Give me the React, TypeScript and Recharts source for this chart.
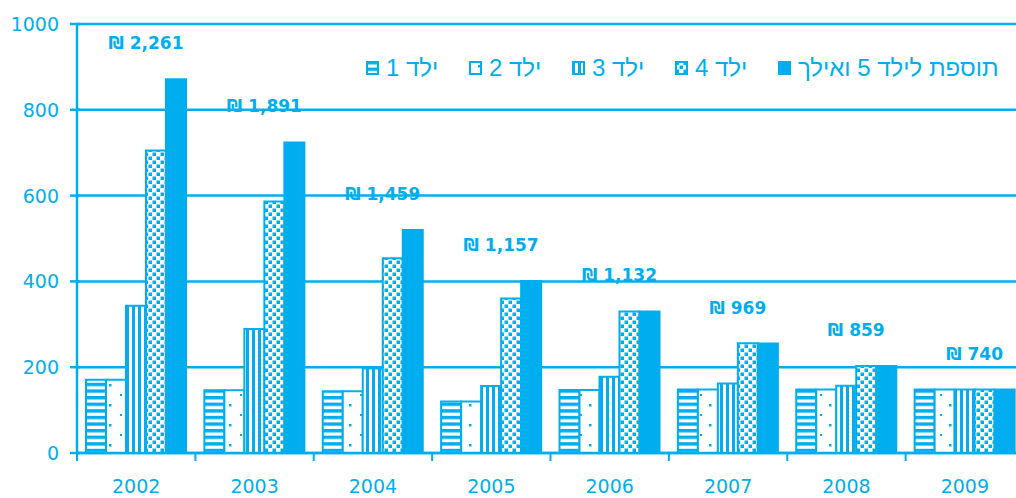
import React from "react"
import { BarChart, Bar, XAxis, YAxis, CartesianGrid, LabelList } from "recharts"

const BLUE = "#00aeef"

const years = ["2002", "2003", "2004", "2005", "2006", "2007", "2008", "2009"]
const yTicks = [0, 200, 400, 600, 800, 1000]
const seriesNames = ["ילד 1", "ילד 2", "ילד 3", "ילד 4", "תוספת לילד 5 ואילך"]

const child1 = [171, 146, 144, 120, 147, 148, 148, 148]
const child2 = [171, 146, 144, 120, 147, 148, 148, 148]
const child3 = [343, 289, 197, 156, 178, 162, 157, 148]
const child4 = [705, 586, 454, 360, 330, 256, 203, 148]
const child5 = [871, 724, 520, 401, 330, 255, 203, 148]
const totals = [2261, 1891, 1459, 1157, 1132, 969, 859, 740]

const data = years.map((year, i) => ({
  year,
  c1: child1[i],
  c2: child2[i],
  c3: child3[i],
  c4: child4[i],
  c5: child5[i],
  total: totals[i],
}))

const keys = ["c1", "c2", "c3", "c4", "c5"]
const fills = ["url(#pat-h)", "url(#pat-dots)", "url(#pat-v)", "url(#pat-check)", BLUE]

const CHART_W = 1024
const CHART_H = 498
const LEFT = 77
const TOP = 24
const BOTTOM = 453
const STEP = (CHART_W - LEFT) / years.length

function Patterns() {
  return (
    <svg width={0} height={0} style={{ position: "absolute" }}>
      <defs>
        <pattern id="pat-h" patternUnits="userSpaceOnUse" width={8} height={6.6}>
          <rect width={8} height={6.6} fill="#fff" />
          <rect y={0} width={8} height={3.4} fill={BLUE} />
        </pattern>
        <pattern id="pat-dots" patternUnits="userSpaceOnUse" width={20} height={20}>
          <rect width={20} height={20} fill="#fff" />
          <rect x={9} y={4} width={2.5} height={2.5} fill={BLUE} />
          <rect x={0} y={14} width={2} height={2} fill={BLUE} />
        </pattern>
        <pattern id="pat-v" patternUnits="userSpaceOnUse" width={6} height={6}>
          <rect width={6} height={6} fill="#fff" />
          <rect x={0} width={3} height={6} fill={BLUE} />
        </pattern>
        <pattern id="pat-check" patternUnits="userSpaceOnUse" width={8} height={8}>
          <rect width={8} height={8} fill="#fff" />
          <rect x={0.5} y={0.5} width={3.5} height={3.5} fill={BLUE} />
          <rect x={4.5} y={4.5} width={3.5} height={3.5} fill={BLUE} />
        </pattern>
      </defs>
    </svg>
  )
}

function YTick(props: any) {
  const { y, payload } = props
  return (
    <g>
      <line x1={70} x2={LEFT + 3} y1={y} y2={y} stroke={BLUE} strokeWidth={2.5} />
      <text
        x={59}
        y={y}
        dy={7}
        textAnchor="end"
        fill={BLUE}
        fontSize={19}
        fontFamily="DejaVu Sans"
      >
        {payload.value}
      </text>
    </g>
  )
}

function XTick(props: any) {
  const { x, payload } = props
  const edge = x - STEP / 2
  return (
    <g>
      <line x1={edge} x2={edge} y1={BOTTOM} y2={BOTTOM + 8} stroke={BLUE} strokeWidth={2} />
      <text
        x={x}
        y={493}
        textAnchor="middle"
        fill={BLUE}
        fontSize={19}
        fontFamily="DejaVu Sans"
      >
        {payload.value}
      </text>
    </g>
  )
}

function TotalLabel(props: any) {
  const vb = props.viewBox || {}
  const x = Number(props.x ?? vb.x)
  const y = Number(props.y ?? vb.y)
  const w = Number(props.width ?? vb.width)
  const center = x + w / 2 - 2 * w + 10
  return (
    <text
      x={center}
      y={y - 30}
      textAnchor="middle"
      fill={BLUE}
      fontSize={17}
      fontWeight="bold"
      fontFamily="DejaVu Sans"
    >
      {"₪ " + Number(props.value).toLocaleString("en-US")}
    </text>
  )
}

function LegendIcon({ fill }: { fill: string }) {
  return (
    <svg width={13} height={14} style={{ display: "block" }}>
      <rect x={1} y={1} width={11} height={12} fill={fill} stroke={BLUE} strokeWidth={2} />
    </svg>
  )
}

function ChartLegend() {
  return (
    <div
      style={{
        position: "absolute",
        left: 366,
        top: 54,
        height: 28,
        display: "flex",
        alignItems: "center",
        fontFamily: "Liberation Sans",
        fontSize: 24,
        color: BLUE,
      }}
    >
      {seriesNames.map((name, i) => (
        <div
          key={name}
          style={{
            display: "flex",
            alignItems: "center",
            width: i < seriesNames.length - 1 ? 103 : "auto",
          }}
        >
          <LegendIcon fill={fills[i]} />
          <span dir="rtl" style={{ marginLeft: 7, whiteSpace: "nowrap", lineHeight: "28px" }}>
            {name}
          </span>
        </div>
      ))}
    </div>
  )
}

export default function App() {
  return (
    <div
      style={{
        position: "fixed",
        left: 0,
        top: 0,
        width: 1016,
        height: 498,
        overflow: "hidden",
        background: "#fff",
      }}
    >
      <Patterns />
      <BarChart
        width={CHART_W}
        height={CHART_H}
        data={data}
        margin={{ top: TOP, right: 0, left: 0, bottom: 0 }}
        barCategoryGap={9}
        barGap={0}
      >
        <CartesianGrid vertical={false} stroke={BLUE} strokeWidth={2.5} />
        <XAxis
          dataKey="year"
          height={CHART_H - BOTTOM}
          axisLine={{ stroke: BLUE, strokeWidth: 2.5 }}
          tickLine={false}
          tick={XTick}
          interval={0}
        />
        <YAxis
          width={LEFT}
          domain={[0, 1000]}
          ticks={yTicks}
          interval={0}
          axisLine={{ stroke: BLUE, strokeWidth: 2.5 }}
          tickLine={false}
          tick={YTick}
        />
        {keys.map((k, i) => (
          <Bar
            key={k}
            dataKey={k}
            name={seriesNames[i]}
            fill={fills[i]}
            stroke={BLUE}
            strokeWidth={2}
            isAnimationActive={false}
          >
            {i === keys.length - 1 && (
              <LabelList dataKey="total" content={TotalLabel} />
            )}
          </Bar>
        ))}
      </BarChart>
      <ChartLegend />
    </div>
  )
}
